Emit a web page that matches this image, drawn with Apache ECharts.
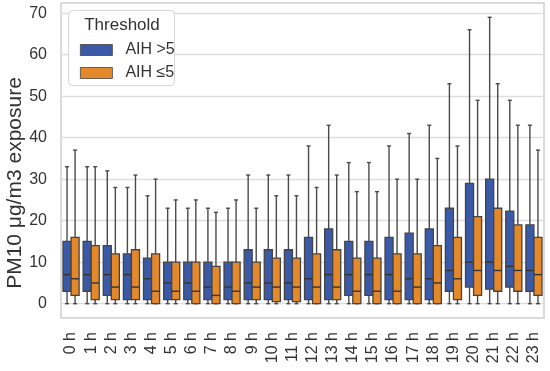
<!DOCTYPE html>
<html>
<head>
<meta charset="utf-8">
<script src="https://cdn.jsdelivr.net/npm/echarts@6/dist/echarts.min.js"></script>
<style>html,body{margin:0;padding:0;background:#fff}#c{width:550px;height:371px}</style>
</head>
<body>
<div id="c"></div>
<script>
const hours = ['0 h','1 h','2 h','3 h','4 h','5 h','6 h','7 h','8 h','9 h','10 h','11 h','12 h','13 h','14 h','15 h','16 h','17 h','18 h','19 h','20 h','21 h','22 h','23 h'];
const yTicks = [0, 10, 20, 30, 40, 50, 60, 70];
// [min, Q1, median, Q3, max]
const aihHigh = [
  [0,3,7,15,33],[0,3,7,15,33],[0,2,7,14,32],[0,1,7,12,28],[0,1,6,11,26],
  [0,1,5,10,23],[0,1,5,10,23],[0,1,4,10,23],[0,1,4,10,23],[0,1,5,13,31],
  [0,1,5,13,31],[0,1,5,13,31],[0,1,6,16,38],[0,1,7,18,43],[0,2,7,15,34],
  [0,2,7,15,34],[0,1,7,16,38],[0,1,6,17,41],[0,1,6,18,43],[0,3,8,23,53],
  [0,4,10,29,66],[0,3.5,10,30,69],[0,4,9,22.3,49],[0,3,8,19,43]
];
const aihLow = [
  [0,2,6,16,37],[0,1,5,14,33],[0,1,4,12,28],[0,1,4,13,31],[0,0,3,12,30],
  [0,1,3,10,25],[0,0,3,10,25],[0,0,2,9,22],[0,0,3,10,25],[0,1,4,10,23],
  [0,0.5,4,11,26],[0,0.5,4,11,26],[0,0,4,12,28],[0,1,4,13,31],[0,0,3,11,27],
  [0,0,3,11,27],[0,0,3,12,30],[0,0,4,12,30],[0,0,5,14,35],[0,1,6,16,38],
  [0,2,8,21,49],[0,3,8,23,53],[0,3,8,19,43],[0,2,7,16,37]
];
const seriesNames = ['AIH >5', 'AIH \u22645'];
const seriesColors = ['#3a5aa8', '#e4892b'];

function toData(arr) { return arr.map((v, i) => [i].concat(v)); }

function makeRender(side) {
  return function (params, api) {
    const i = api.value(0);
    const band = api.size([1, 0])[0];
    const cx = api.coord([i, 0])[0] + side * band * 0.2;
    const bw = band * 0.4;
    const yMin = api.coord([i, api.value(1)])[1];
    const yQ1 = api.coord([i, api.value(2)])[1];
    const yMed = api.coord([i, api.value(3)])[1];
    const yQ3 = api.coord([i, api.value(4)])[1];
    const yMax = api.coord([i, api.value(5)])[1];
    const capW = bw * 0.5;
    const lineStyle = { stroke: '#4a4a4a', lineWidth: 1.4, fill: null };
    return {
      type: 'group',
      children: [
        { type: 'line', shape: { x1: cx, y1: yQ3, x2: cx, y2: yMax }, style: lineStyle },
        { type: 'line', shape: { x1: cx, y1: yQ1, x2: cx, y2: yMin }, style: lineStyle },
        { type: 'line', shape: { x1: cx - capW / 2, y1: yMax, x2: cx + capW / 2, y2: yMax }, style: lineStyle },
        { type: 'line', shape: { x1: cx - capW / 2, y1: yMin, x2: cx + capW / 2, y2: yMin }, style: lineStyle },
        { type: 'rect', shape: { x: cx - bw / 2, y: yQ3, width: bw, height: yQ1 - yQ3 },
          style: { fill: api.visual('color'), stroke: '#444', lineWidth: 1.3 } },
        { type: 'line', shape: { x1: cx - bw / 2, y1: yMed, x2: cx + bw / 2, y2: yMed }, style: { stroke: '#333', lineWidth: 1.4 } }
      ]
    };
  };
}

const chart = echarts.init(document.getElementById('c'), null, { renderer: 'canvas' });
const font = 'Liberation Sans, Arial, sans-serif';
chart.setOption({
  animation: false,
  backgroundColor: '#fff',
  textStyle: { fontFamily: font },
  grid: { left: 61, right: 6, top: 3, bottom: 53, show: true, borderColor: '#cfcfcf', borderWidth: 1.5, backgroundColor: '#fff' },
  xAxis: {
    type: 'category',
    data: hours,
    axisLine: { show: false },
    axisTick: { show: false },
    splitLine: { show: false },
    axisLabel: { rotate: 90, margin: 14, fontSize: 16, color: '#333', fontFamily: font, interval: 0 }
  },
  yAxis: {
    type: 'value',
    min: -3.45,
    max: 72.45,
    axisLine: { show: false },
    axisTick: { show: false, customValues: yTicks },
    axisLabel: { customValues: yTicks, margin: 14, fontSize: 16, color: '#333', fontFamily: font },
    splitLine: { show: true, lineStyle: { color: '#dedede', width: 1.3 } }
  },
  legend: {
    data: seriesNames,
    orient: 'vertical',
    left: 75,
    top: 37,
    itemWidth: 32,
    itemHeight: 11,
    itemGap: 7,
    icon: 'rect',
    itemStyle: { borderColor: '#444', borderWidth: 0.8 },
    textStyle: { fontSize: 16, color: '#333', fontFamily: font, padding: [0, 0, 0, 8] },
    z: 20
  },
  graphic: [
    { type: 'rect', z: 15, shape: { x: 68.5, y: 10.5, width: 106, height: 75, r: 4 },
      style: { fill: 'rgba(255,255,255,0.85)', stroke: '#d6d6d6', lineWidth: 1 } },
    { type: 'text', z: 16, x: 122, y: 25, style: { text: 'Threshold', fontSize: 17, fill: '#333', font: '17px Liberation Sans, Arial, sans-serif', align: 'center', verticalAlign: 'middle' } },
    { type: 'text', z: 16, x: 15, y: 183, rotation: Math.PI / 2, style: { text: 'PM10 \u03bcg/m3 exposure', fill: '#333', font: '21px Liberation Sans, Arial, sans-serif', align: 'center', verticalAlign: 'middle' } }
  ],
  series: [
    { name: seriesNames[0], type: 'custom', renderItem: makeRender(-1), itemStyle: { color: seriesColors[0] },
      encode: { x: 0, y: [1, 2, 3, 4, 5] }, data: toData(aihHigh), z: 5 },
    { name: seriesNames[1], type: 'custom', renderItem: makeRender(1), itemStyle: { color: seriesColors[1] },
      encode: { x: 0, y: [1, 2, 3, 4, 5] }, data: toData(aihLow), z: 5 }
  ]
});
</script>
</body>
</html>
